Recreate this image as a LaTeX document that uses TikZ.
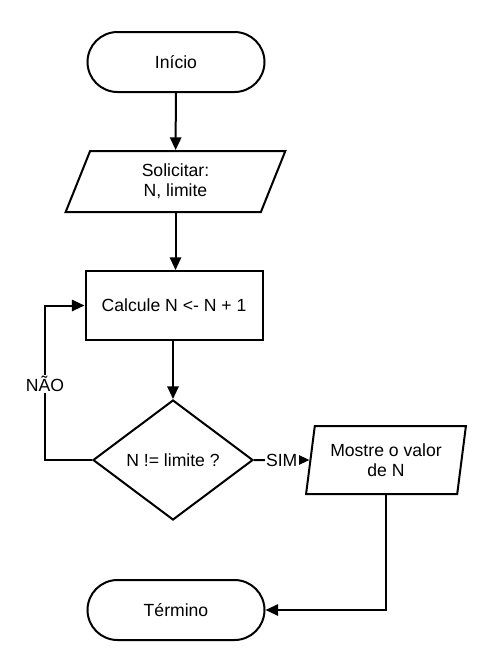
\documentclass[tikz,border=0pt]{standalone}
\usepackage{fontspec}
\setmainfont{Liberation Sans}
\usepackage{tikz}
\usetikzlibrary{shapes.geometric,arrows.meta}

\begin{document}
\begin{tikzpicture}[x=0.75pt,y=-0.75pt,line width=1.5pt,
    font=\fontsize{13.2pt}{15pt}\selectfont,
    terminal/.style={draw,rectangle,rounded corners=22.5pt,minimum width=177*0.75pt,minimum height=60*0.75pt},
    io/.style={draw,trapezium,trapezium stretches=true,align=center,minimum height=61*0.75pt},
    process/.style={draw,rectangle,minimum width=177*0.75pt,minimum height=69*0.75pt},
    decision/.style={draw,diamond,inner sep=0pt,minimum width=160*0.75pt,minimum height=120*0.75pt},
    flow/.style={-{Triangle[length=9.5pt,width=8.5pt]}},
    answer/.style={fill=white,inner sep=1pt}]
            \useasboundingbox (0,0) rectangle (492,672);
            \node[terminal] (start) at (176,62) {Início};
            \node[io,trapezium left angle=76,trapezium right angle=104,minimum width=221*0.75pt] (input) at (175.5,181.5) {Solicitar:\\N, limite};
            \node[process] (calc) at (174,305.5) {Calcule N <- N + 1};
            \node[decision] (test) at (173,460) {N != limite ?};
            \node[io,trapezium left angle=80,trapezium right angle=100,minimum width=160*0.75pt,minimum height=68*0.75pt] (output) at (386,460) {Mostre o valor\\de N};
            \node[terminal] (end) at (176,610) {Término};
            \coordinate (loop) at (45,460);
            \draw[flow] (start) -- (input);
            \draw[flow] (input.south) -- (input.south |- calc.north);
            \draw[flow] (calc.south -| test.north) -- (test.north);
            \draw[flow] (test.west) -- (loop) |- node[answer,pos=0.245]{NÃO} (calc.west);
            \draw[flow] (test.east) -- node[answer]{SIM} (output.west);
            \draw[flow] (output.south) |- (end.east);
        \end{tikzpicture}
\end{document}
